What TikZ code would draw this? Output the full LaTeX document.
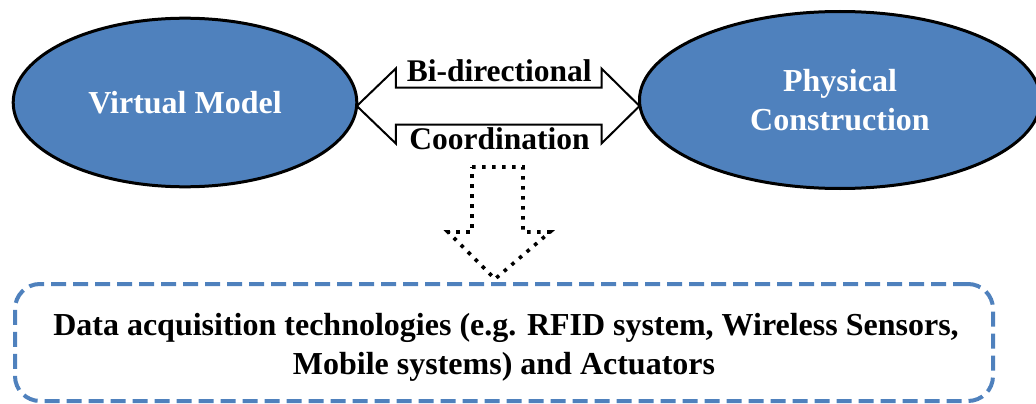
\documentclass[tikz,border=0pt]{standalone}
\usepackage{fontspec}
\setmainfont{Liberation Serif}
\usetikzlibrary{shapes.geometric,calc}
\definecolor{ovalblue}{HTML}{4F81BD}

\begin{document}
\begin{tikzpicture}[x=1pt,y=-1pt,
  oval/.style={ellipse, draw=black, line width=3pt, fill=ovalblue,
    inner sep=0pt, outer sep=0pt, text=white, align=center,
    font=\fontsize{32}{38.4}\selectfont\bfseries},
  twoway/.style={draw=black, fill=white, line width=2pt, line join=miter},
  flowdown/.style={draw=black, line width=3.6pt, dash pattern=on 3.6pt off 6.4pt},
  dashbox/.style={draw=ovalblue, line width=4pt, rounded corners=25pt,
    dash pattern=on 15pt off 7pt, inner sep=0pt, outer sep=0pt},
  arrowlabel/.style={inner sep=0pt, anchor=base,
    font=\fontsize{31.5}{36}\selectfont\bfseries},
  bodytext/.style={inner sep=0pt, anchor=base,
    font=\fontsize{32}{38}\selectfont\bfseries}]
\useasboundingbox (0,0) rectangle (1036,404);

% anchors of the two models (outline only, filled ovals are drawn later)
\node[oval, draw=none, fill=none, minimum width=343.6pt, minimum height=168.6pt] (vm) at (185,102.5) {};
\node[oval, draw=none, fill=none, minimum width=401pt, minimum height=177pt] (pc) at (840,100) {};

% bi-directional block arrow between them
\coordinate (mid) at (500,106);
\coordinate (tL) at (vm.east |- mid);
\coordinate (tR) at (pc.west |- mid);
\draw[twoway] (tL) -- ($(tL)+(39,-37.5)$) -- ($(tL)+(39,-18.5)$)
  -- ($(tR)+(-38,-18.5)$) -- ($(tR)+(-38,-37.5)$) -- (tR)
  -- ($(tR)+(-38,37.5)$) -- ($(tR)+(-38,18.5)$)
  -- ($(tL)+(39,18.5)$) -- ($(tL)+(39,37.5)$) -- cycle;

% the two models, drawn over the arrow tips
\node[oval, minimum width=343.6pt, minimum height=168.6pt] (vmodel) at (vm) {Virtual Model};
\node[oval, minimum width=401pt, minimum height=177pt] (pmodel) at (pc) {Physical\\Construction};

\node[arrowlabel] (bi) at (499.2,81.7) {Bi-directional};
\node[arrowlabel] (co) at (499.5,149.5) {Coordination};

% dotted block arrow pointing down to the data layer
\coordinate (dtip) at (495,279);
\draw[flowdown] ($(dtip)+(-23,-112)$) -- ($(dtip)+(28,-112)$) -- ($(dtip)+(28,-47)$)
  -- ($(dtip)+(55,-47)$) -- (dtip) -- ($(dtip)+(-47,-47)$)
  -- ($(dtip)+(-23,-47)$) -- cycle;

% data acquisition layer
\node[dashbox, minimum width=978pt, minimum height=117pt] (box) at (504,342.5) {};
\node[bodytext] (l1) at (506,335) {Data acquisition technologies (e.g. RFID system, Wireless Sensors,};
\node[bodytext] (l2) at (504,374) {Mobile systems) and Actuators};
\end{tikzpicture}
\end{document}
